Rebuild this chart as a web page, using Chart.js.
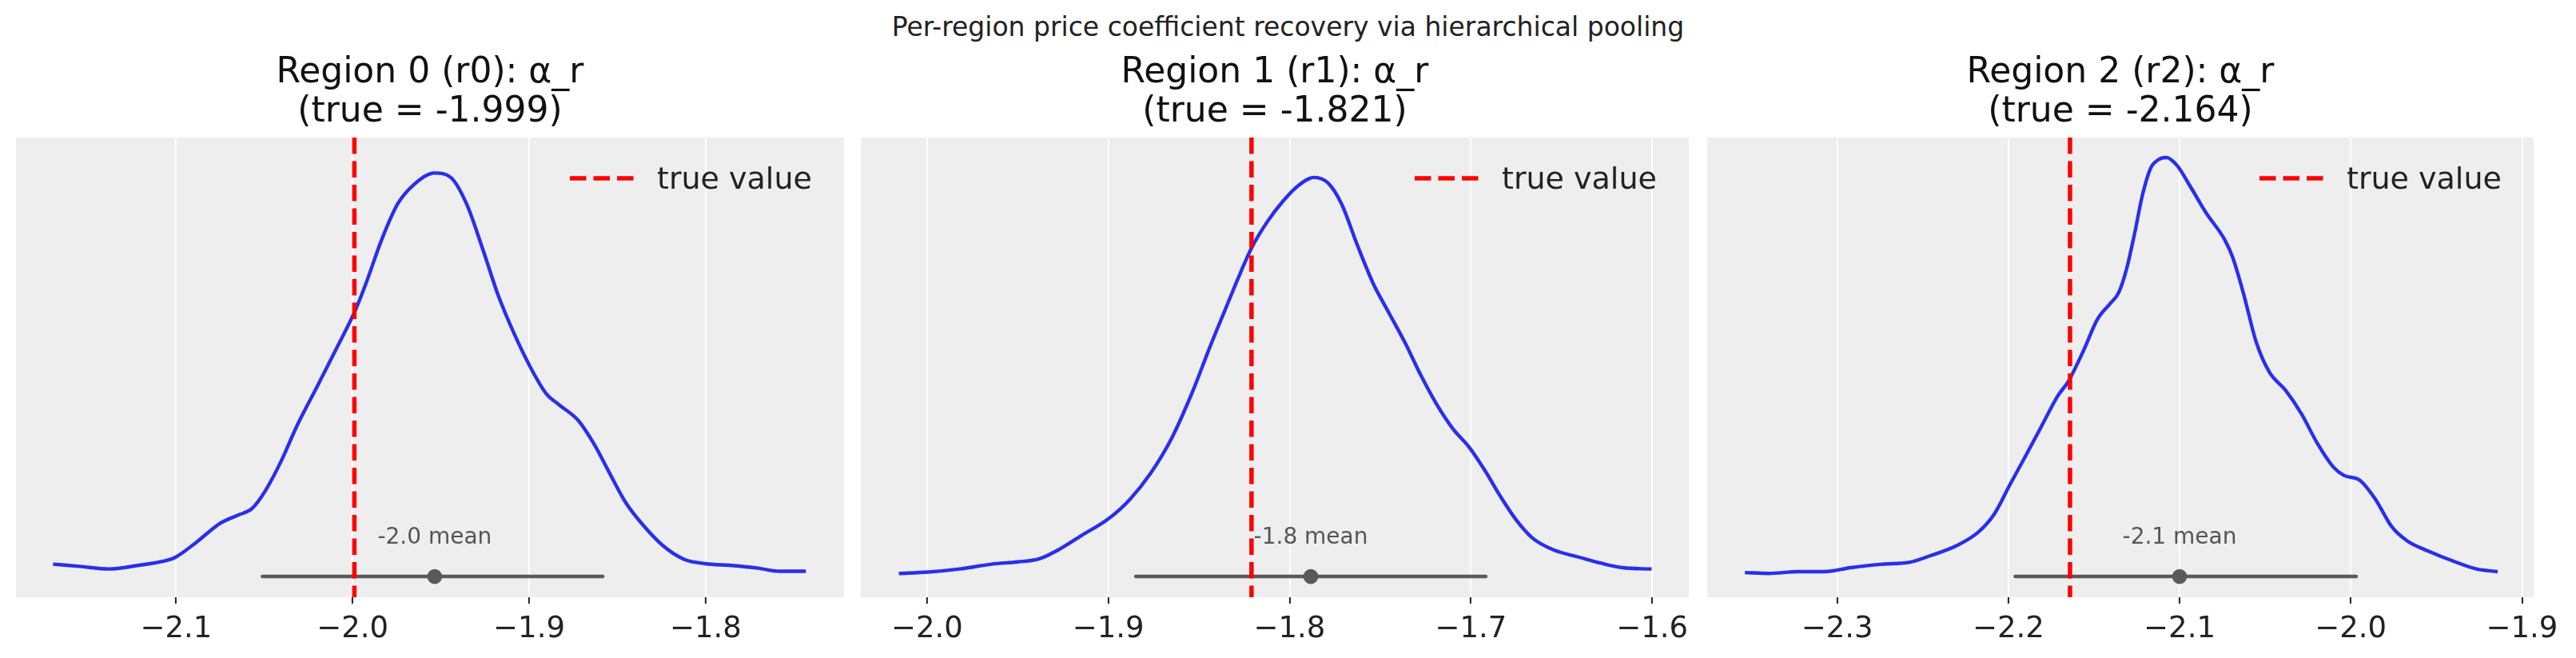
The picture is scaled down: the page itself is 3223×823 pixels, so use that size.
<!DOCTYPE html>
<html>
<head>
<meta charset="utf-8">
<title>Per-region price coefficient recovery</title>
<script src="https://cdn.jsdelivr.net/npm/chart.js@4.4.1/dist/chart.umd.min.js"></script>
<style>
  html, body { margin: 0; padding: 0; background: #ffffff; overflow: hidden; }
  body { width: 3223px; height: 823px; position: relative; font-family: 'DejaVu Sans', sans-serif; }
  #suptitle {
    position: absolute; left: 0; top: 14px; width: 3223px;
    text-align: center; font-size: 33px; line-height: 40px; color: #222222;
  }
  canvas { position: absolute; top: 0; }
</style>
</head>
<body>
<div id="suptitle">Per-region price coefficient recovery via hierarchical pooling</div>
<canvas id="chart0"></canvas>
<canvas id="chart1"></canvas>
<canvas id="chart2"></canvas>
<script>
// values
const REGIONS = ['Region 0 (r0)', 'Region 1 (r1)', 'Region 2 (r2)'];
const TRUE_VALUES = [-1.999, -1.821, -2.164];
const POSTERIOR_MEANS = [-1.9535, -1.7883, -2.1000];
const HDI_LOW = [-2.0511, -1.8848, -2.1960];
const HDI_HIGH = [-1.8583, -1.6918, -1.9969];

const KDE_X_R0 = [-2.1697, -2.1547, -2.1381, -2.1216, -2.1066, -2.1006, -2.0886, -2.0751, -2.0646, -2.0571,
  -2.0495, -2.0405, -2.0315, -2.0195, -2.0075, -1.9985, -1.9925, -1.9835, -1.9745, -1.9655,
  -1.9535, -1.9444, -1.9354, -1.9264, -1.9174, -1.9084, -1.8994, -1.8904, -1.8829, -1.8724,
  -1.8634, -1.8544, -1.8453, -1.8363, -1.8243, -1.8123, -1.8003, -1.7853, -1.7703, -1.7583, -1.7432];
const KDE_Y_R0 = [0.28, 0.23, 0.17, 0.25, 0.35, 0.43, 0.77, 1.20, 1.39, 1.53,
  1.93, 2.60, 3.40, 4.33, 5.27, 6.00, 6.60, 7.60, 8.40, 8.83,
  9.10, 9.00, 8.40, 7.40, 6.33, 5.47, 4.73, 4.13, 3.87, 3.53,
  3.00, 2.33, 1.67, 1.20, 0.70, 0.39, 0.29, 0.25, 0.19, 0.12, 0.12];

const KDE_X_R1 = [-2.0155, -1.9994, -1.9819, -1.9643, -1.9497, -1.9380, -1.9263, -1.9146, -1.9000, -1.8883,
  -1.8766, -1.8649, -1.8532, -1.8444, -1.8357, -1.8269, -1.8211, -1.8123, -1.8035, -1.7947,
  -1.7865, -1.7787, -1.7713, -1.7626, -1.7538, -1.7450, -1.7363, -1.7275, -1.7187, -1.7099,
  -1.7012, -1.6924, -1.6836, -1.6749, -1.6661, -1.6544, -1.6398, -1.6281, -1.6164, -1.6003];
const KDE_Y_R1 = [0.07, 0.10, 0.17, 0.28, 0.33, 0.40, 0.63, 0.93, 1.30, 1.73,
  2.33, 3.13, 4.20, 5.13, 6.00, 6.87, 7.40, 8.00, 8.47, 8.83,
  9.00, 8.87, 8.40, 7.47, 6.60, 5.93, 5.27, 4.53, 3.87, 3.33,
  2.93, 2.40, 1.80, 1.27, 0.87, 0.60, 0.43, 0.30, 0.20, 0.17];

const KDE_X_R2 = [-2.3539, -2.3399, -2.3229, -2.3074, -2.2920, -2.2734, -2.2579, -2.2455, -2.2300, -2.2176,
  -2.2084, -2.1991, -2.1898, -2.1805, -2.1712, -2.1650, -2.1557, -2.1480, -2.1402, -2.1356,
  -2.1310, -2.1263, -2.1217, -2.1170, -2.1124, -2.1077, -2.1015, -2.0938, -2.0845, -2.0737,
  -2.0690, -2.0628, -2.0551, -2.0474, -2.0381, -2.0288, -2.0195, -2.0102, -2.0040, -1.9947,
  -1.9854, -1.9762, -1.9669, -1.9545, -1.9390, -1.9266, -1.9142];
const KDE_Y_R2 = [0.09, 0.07, 0.11, 0.11, 0.20, 0.28, 0.32, 0.47, 0.70, 1.00,
  1.40, 2.07, 2.73, 3.40, 4.07, 4.40, 5.13, 5.80, 6.17, 6.40,
  6.93, 7.73, 8.60, 9.20, 9.40, 9.45, 9.27, 8.80, 8.20, 7.60,
  7.20, 6.40, 5.27, 4.60, 4.20, 3.67, 3.00, 2.47, 2.28, 2.17,
  1.73, 1.13, 0.80, 0.57, 0.33, 0.17, 0.11];

const TICKS_R0 = [-2.1, -2.0, -1.9, -1.8];
const TICKS_R1 = [-2.0, -1.9, -1.8, -1.7, -1.6];
const TICKS_R2 = [-2.3, -2.2, -2.1, -2.0, -1.9];

const X_RANGE_R0 = [-2.1907, -1.7216];
const X_RANGE_R1 = [-2.0365, -1.5798];
const X_RANGE_R2 = [-2.3759, -1.8932];
const Y_RANGE = [-0.467, 9.9];
const MEAN_LABEL_Y = 0.74;

// layout of the three panels (chart area in page pixels)
const PANEL_LEFT = [20, 1077, 2136];
const PANEL_WIDTH = [1036, 1036, 1034];
const PAD_X = 60;
const FIG_H = 823;
const AXIS_H = 76;
const FONT = "'DejaVu Sans', sans-serif";

const kdeX = [KDE_X_R0, KDE_X_R1, KDE_X_R2];
const kdeY = [KDE_Y_R0, KDE_Y_R1, KDE_Y_R2];
const ticks = [TICKS_R0, TICKS_R1, TICKS_R2];
const xRanges = [X_RANGE_R0, X_RANGE_R1, X_RANGE_R2];

const panelBackground = {
  id: 'panelBackground',
  beforeDraw(chart) {
    const { ctx, chartArea: a } = chart;
    ctx.save();
    ctx.fillStyle = '#eeeeee';
    ctx.fillRect(a.left, a.top, a.width, a.height);
    ctx.restore();
  }
};

const posteriorLabels = {
  id: 'posteriorLabels',
  afterDatasetsDraw(chart, args, opts) {
    const { ctx, chartArea: a, scales } = chart;
    ctx.save();
    // point estimate text above the hdi bar
    ctx.font = '28px ' + FONT;
    ctx.fillStyle = '#555555';
    ctx.textAlign = 'center';
    ctx.textBaseline = 'alphabetic';
    ctx.fillText(opts.meanText, scales.x.getPixelForValue(opts.mean), scales.y.getPixelForValue(MEAN_LABEL_Y));

    // legend, upper right inside the axes
    const ly = a.top + 51;
    ctx.strokeStyle = '#ff0000';
    ctx.lineWidth = 5.5;
    ctx.setLineDash([20.5, 9]);
    ctx.beginPath();
    ctx.moveTo(a.right - 343, ly);
    ctx.lineTo(a.right - 263, ly);
    ctx.stroke();
    ctx.setLineDash([]);
    ctx.font = '38px ' + FONT;
    ctx.fillStyle = '#222222';
    ctx.textAlign = 'left';
    ctx.textBaseline = 'middle';
    ctx.fillText('true value', a.right - 234, a.top + 54.5);
    ctx.restore();
  }
};

for (let i = 0; i < 3; i++) {
  const canvas = document.getElementById('chart' + i);
  canvas.width = PANEL_WIDTH[i] + 2 * PAD_X;
  canvas.height = FIG_H;
  canvas.style.left = (PANEL_LEFT[i] - PAD_X) + 'px';

  const kde = kdeX[i].map((x, j) => ({ x, y: kdeY[i][j] }));
  const t = TRUE_VALUES[i];
  const panelTicks = ticks[i];

  new Chart(canvas.getContext('2d'), {
    type: 'line',
    data: {
      datasets: [{
        label: 'true value',
        data: [{ x: t, y: Y_RANGE[1] }, { x: t, y: Y_RANGE[0] }],
        borderColor: '#ff0000',
        borderWidth: 5.5,
        borderDash: [20.5, 9],
        pointRadius: 0,
        order: 0
      }, {
        label: 'posterior',
        data: kde,
        borderColor: '#2a2eec',
        borderWidth: 4.4,
        borderJoinStyle: 'round',
        cubicInterpolationMode: 'monotone',
        pointRadius: 0,
        order: 1
      }, {
        label: 'mean',
        data: [{ x: POSTERIOR_MEANS[i], y: 0 }],
        showLine: false,
        pointRadius: 9.3,
        pointBackgroundColor: '#5a5a5a',
        pointBorderWidth: 0,
        order: 2
      }, {
        label: '94% HDI',
        data: [{ x: HDI_LOW[i], y: 0 }, { x: HDI_HIGH[i], y: 0 }],
        borderColor: '#5a5a5a',
        borderWidth: 4.5,
        borderCapStyle: 'round',
        pointRadius: 0,
        order: 3
      }]
    },
    options: {
      responsive: false,
      animation: false,
      devicePixelRatio: 1,
      events: [],
      layout: { padding: { left: PAD_X, right: PAD_X, top: 0, bottom: 0 } },
      plugins: {
        legend: { display: false },
        tooltip: { enabled: false },
        title: {
          display: true,
          text: [REGIONS[i] + ': α_r', '(true = ' + t.toFixed(3) + ')'],
          color: '#111111',
          font: { family: FONT, size: 44, weight: 'normal', lineHeight: 49 / 44 },
          padding: { top: 67.5, bottom: 6.5 }
        },
        posteriorLabels: {
          mean: POSTERIOR_MEANS[i],
          meanText: POSTERIOR_MEANS[i].toFixed(1) + ' mean'
        }
      },
      scales: {
        x: {
          type: 'linear',
          min: xRanges[i][0],
          max: xRanges[i][1],
          afterBuildTicks: (scale) => { scale.ticks = panelTicks.map(v => ({ value: v })); },
          afterFit: (scale) => { scale.height = AXIS_H; },
          ticks: {
            callback: (v) => Number(v).toFixed(1).replace('-', '\u2212'),
            font: { family: FONT, size: 37 },
            color: '#222222',
            padding: 10,
            maxRotation: 0,
            autoSkip: false
          },
          grid: { color: '#ffffff', lineWidth: 1.8, tickColor: '#222222', tickLength: 8, tickWidth: 2 },
          border: { display: false }
        },
        y: { display: false, min: Y_RANGE[0], max: Y_RANGE[1] }
      }
    },
    plugins: [panelBackground, posteriorLabels]
  });
}
</script>
</body>
</html>
